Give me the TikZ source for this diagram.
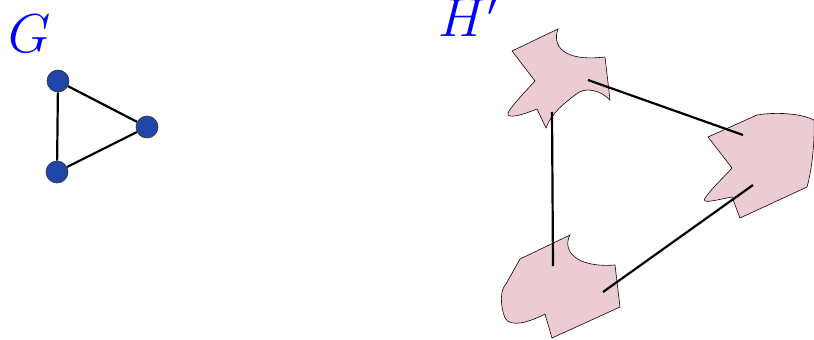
\documentclass[tikz,border=0pt]{standalone}
\begin{document}
\begin{tikzpicture}[x=1pt,y=-1pt,
  vert/.style={circle,draw=black!80,line width=0.6pt,fill=gnode,minimum size=22pt,inner sep=0pt},
  edge/.style={line width=2.2pt,black},
  blob/.style={draw=black!75!red!40!black,line width=0.6pt,fill=blobpink},
  lbl/.style={text=blue,inner sep=0pt,font=\Huge,scale=2.2}]
\definecolor{gnode}{RGB}{31,69,168}
\definecolor{blobpink}{RGB}{235,204,211}
\useasboundingbox (0,0) rectangle (814,340);
% G
\node[lbl,anchor=base west] (Glbl) at (8,52) {$G$};
\node[vert] (a) at (58,81) {};
\node[vert] (b) at (147,127) {};
\node[vert] (c) at (57,172) {};
\draw[edge] (a) -- (b) (b) -- (c) (c) -- (a);
% H'
\node[lbl,anchor=base west] (Hlbl) at (438,36) {$H'$};
% top blob
\draw[blob] (512,51) -- (558,29)
  .. controls (552,45) and (562,62) .. (605,57)
  -- (610,100)
  .. controls (600,90) and (585,86) .. (575,95)
  .. controls (565,103) and (552,112) .. (546,128)
  -- (537,109)
  .. controls (525,114) and (506,120) .. (508,113)
  .. controls (512,105) and (525,92) .. (535,81)
  -- cycle;
% right blob
\draw[blob] (708,137) -- (757,115)
  .. controls (775,112) and (800,113) .. (814,120)
  .. controls (815,140) and (812,170) .. (807,187)
  -- (740,218) -- (732,197)
  .. controls (720,199) and (700,205) .. (705,198)
  .. controls (712,188) and (725,176) .. (732,168)
  -- cycle;
% bottom blob
\draw[blob] (570,235)
  .. controls (562,250) and (575,268) .. (615,265)
  -- (620,307) -- (552,338) -- (545,314)
  .. controls (530,322) and (510,328) .. (505,318)
  .. controls (500,305) and (500,290) .. (506,284)
  -- (520,259) -- cycle;
% H' edges
\coordinate (t1) at (588,80);
\coordinate (r1) at (743,135);
\coordinate (t2) at (552,112);
\coordinate (b1) at (553,266);
\coordinate (r2) at (753,185);
\coordinate (b2) at (603,292);
\draw[edge] (t1) -- (r1);
\draw[edge] (t2) -- (b1);
\draw[edge] (r2) -- (b2);
\end{tikzpicture}
\end{document}
